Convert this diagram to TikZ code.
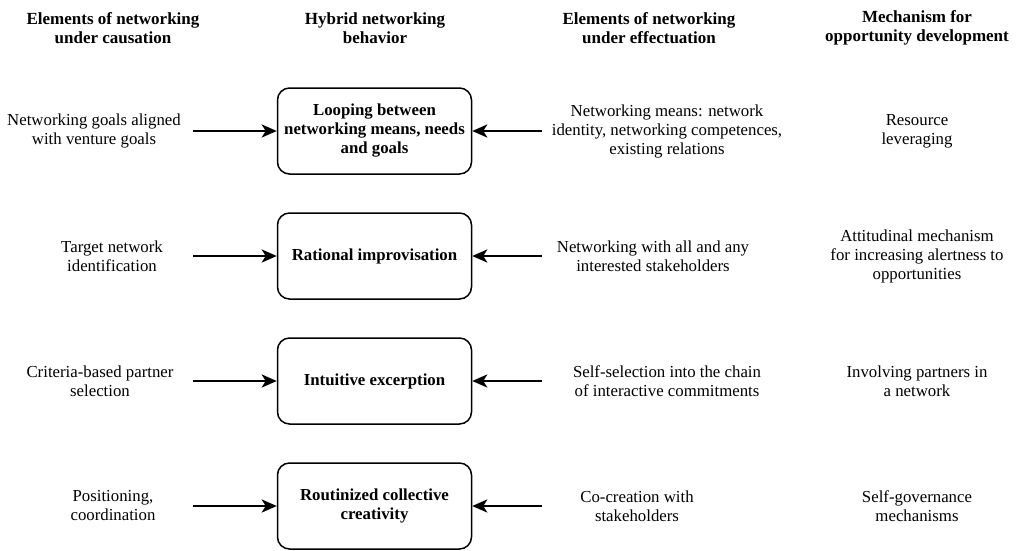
\documentclass[tikz,border=0pt]{standalone}
\usepackage{fontspec}
\setmainfont{Liberation Serif}
\usetikzlibrary{arrows.meta}
\begin{document}
\begin{tikzpicture}[x=1pt,y=-1pt,
  head/.style={font=\fontsize{17}{19}\selectfont\bfseries, align=center},
  txt/.style={font=\fontsize{16.8}{19}\selectfont, align=center},
  hybrid/.style={draw, line width=1.5pt, rounded corners=12pt, minimum width=194pt, minimum height=86pt,
    font=\fontsize{16.8}{19}\selectfont\bfseries, align=center},
  link/.style={line width=2.6pt, -{Stealth[length=15pt,width=13pt,inset=4pt]}}]
\useasboundingbox (0,0) rectangle (1020,550);
% column headings
\node[head] (h1) at (113,28) {Elements of networking\\under causation};
\node[head] (h2) at (375,28) {Hybrid networking\\behavior};
\node[head] (h3) at (649,28) {Elements of networking\\under effectuation};
\node[head] (h4) at (917,28) {Mechanism for\\opportunity development};
% hybrid behaviours
\node[hybrid] (b1) at (374.5,131) {Looping between\\networking means, needs\\and goals};
\node[hybrid] (b2) at (374.5,256) {Rational improvisation};
\node[hybrid] (b3) at (374.5,381) {Intuitive excerption};
\node[hybrid] (b4) at (374.5,506) {Routinized collective\\creativity};
% causation elements
\node[txt] (c1) at (94,131) {Networking goals aligned\\with venture goals};
\node[txt] (c2) at (112,256) {Target network\\identification};
\node[txt] (c3) at (100,381) {Criteria-based partner\\selection};
\node[txt] (c4) at (113,506) {Positioning,\\coordination};
% effectuation elements
\node[txt] (e1) at (667,131) {Networking means: network\\identity, networking competences,\\existing relations};
\node[txt] (e2) at (653,256) {Networking with all and any\\interested stakeholders};
\node[txt] (e3) at (667,381) {Self-selection into the chain\\of interactive commitments};
\node[txt] (e4) at (637,506) {Co-creation with\\stakeholders};
% mechanisms
\node[txt] (m1) at (917,131) {Resource\\leveraging};
\node[txt] (m2) at (917,256) {Attitudinal mechanism\\for increasing alertness to\\opportunities};
\node[txt] (m3) at (917,381) {Involving partners in\\a network};
\node[txt] (m4) at (917,506) {Self-governance\\mechanisms};
% arrows into each hybrid behaviour
\foreach \i/\y in {1/131,2/256,3/381,4/506}{
  \coordinate (l\i) at (193,\y);
  \coordinate (r\i) at (542,\y);
  \draw[link] (l\i) -- (b\i.west);
  \draw[link] (r\i) -- (b\i.east);
}
\end{tikzpicture}
\end{document}
